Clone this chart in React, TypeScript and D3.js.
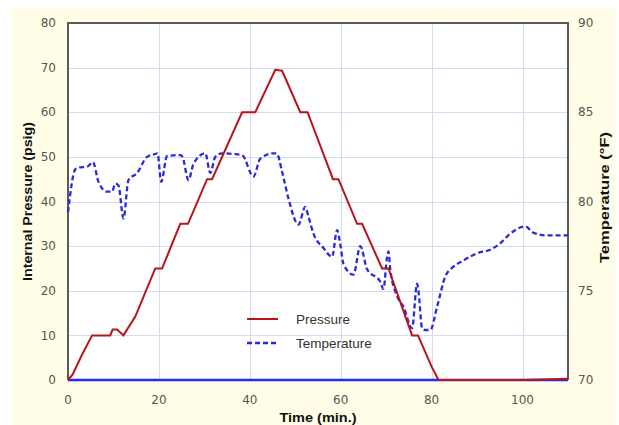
import React, { useEffect, useRef } from "react";
import * as d3 from "d3";

// time (min.), pressure (psig)
const pressureTime = [0, 1, 3, 5.3, 9.3, 9.8, 10.8, 12.2, 14.8, 19.2, 20.7, 24.7, 26.4, 30.6, 31.7, 38.3, 41.2, 45.6, 47.1, 51.1, 52.7, 58.3, 59.5, 63.6, 64.7, 69.1, 70.5, 75.7, 77, 80, 81.5, 100, 110];
const pressureValues = [0, 1.2, 5.5, 10, 10, 11.3, 11.3, 10, 14.2, 25, 25, 35, 35, 45, 45, 60, 60, 69.5, 69.3, 60, 60, 45, 45, 35, 35, 25, 25, 10, 10, 3, 0, 0, 0.3];

// time (min.), temperature (F)
const tempTime = [0, 1.6, 2.3, 4.2, 5.5, 6.7, 8.6, 9.7, 10.4, 11.1, 12.2, 13.3, 15.2, 17.4, 19.2, 19.7, 20.5, 21.8, 24.7, 25.2, 26.5, 27.6, 30.2, 31.3, 32.4, 33.9, 36.4, 38.3, 40.8, 42.3, 45.2, 45.9, 47.1, 48.5, 50.7, 52.2, 52.9, 54.0, 56.2, 58.1, 59.2, 59.9, 60.6, 62.8, 64.3, 65.8, 68.7, 69.4, 70.2, 70.5, 70.9, 72.4, 73.8, 75.7, 76.8, 77.1, 77.9, 78.6, 79.7, 81.2, 83.0, 84.8, 87.0, 90.0, 92.9, 95.1, 97.3, 100.6, 102.4, 105.4, 110];
const tempValues = [79.4, 81.8, 81.9, 81.95, 82.2, 81.1, 80.55, 80.55, 81.0, 80.9, 79.05, 81.2, 81.6, 82.5, 82.66, 82.7, 81.1, 82.55, 82.6, 82.5, 81.2, 82.1, 82.7, 81.6, 82.5, 82.7, 82.66, 82.6, 81.4, 82.4, 82.7, 82.7, 81.67, 80.17, 78.7, 79.7, 79.15, 78.2, 77.4, 76.9, 78.4, 77.6, 76.5, 75.9, 77.5, 76.2, 75.5, 75.1, 76.9, 77.2, 76.2, 74.7, 74.1, 72.9, 75.4, 75.0, 72.9, 72.8, 72.8, 74.1, 75.8, 76.35, 76.7, 77.1, 77.3, 77.66, 78.2, 78.6, 78.25, 78.1, 78.1];

const timeTicks = [0, 20, 40, 60, 80, 100];
const pressureTicks = [0, 10, 20, 30, 40, 50, 60, 70, 80];
const tempTicks = [70, 75, 80, 85, 90];

const legendItems = ["Pressure", "Temperature"];

const W = 619;
const H = 425;
const margin = { top: 23, right: 51, bottom: 45, left: 68 };

function App() {
  const svgRef = useRef<SVGSVGElement>(null);

  useEffect(() => {
    const svg = d3.select(svgRef.current);
    svg.selectAll("*").remove();

    const x = d3.scaleLinear().domain([0, 110]).range([margin.left, W - margin.right]);
    const yP = d3.scaleLinear().domain([0, 80]).range([H - margin.bottom, margin.top]);
    const yT = d3.scaleLinear().domain([70, 90]).range([H - margin.bottom, margin.top]);
    const x0 = x.range()[0], x1 = x.range()[1];
    const y0 = yP.range()[0], y1 = yP.range()[1];

    // background
    svg.append("rect").attr("x", 12).attr("y", 7).attr("width", 603).attr("height", H - 7).attr("fill", "#fffde6");
    svg.append("rect").attr("x", x0).attr("y", y1).attr("width", x1 - x0).attr("height", y0 - y1).attr("fill", "#ffffff");

    // grid
    const grid = svg.append("g").attr("stroke", "#d3dbec").attr("stroke-width", 1);
    grid.selectAll("line.h").data(pressureTicks.slice(1, -1)).join("line")
      .attr("x1", x0).attr("x2", x1)
      .attr("y1", d => Math.round(yP(d)) + 0.5).attr("y2", d => Math.round(yP(d)) + 0.5);
    grid.selectAll("line.v").data(timeTicks.slice(1)).join("line")
      .attr("class", "v")
      .attr("y1", y1).attr("y2", y0)
      .attr("x1", d => Math.round(x(d)) + 0.5).attr("x2", d => Math.round(x(d)) + 0.5);

    // frame (left, top, right)
    svg.append("path")
      .attr("d", `M${x0},${y0}V${y1}H${x1}V${y0}`)
      .attr("fill", "none").attr("stroke", "#5a5a5a").attr("stroke-width", 2);

    // blue baseline series
    svg.append("line").attr("x1", x0).attr("x2", x1).attr("y1", y0).attr("y2", y0)
      .attr("stroke", "#1f2bff").attr("stroke-width", 2.5);

    const pData = pressureTime.map((t, i) => [t, pressureValues[i]] as [number, number]);
    const tData = tempTime.map((t, i) => [t, tempValues[i]] as [number, number]);

    svg.append("path")
      .datum(tData)
      .attr("d", d3.line<[number, number]>().x(d => x(d[0])).y(d => yT(d[1])).curve(d3.curveMonotoneX))
      .attr("fill", "none").attr("stroke", "#2a2ad8").attr("stroke-width", 2.3)
      .attr("stroke-dasharray", "5,3");

    svg.append("path")
      .datum(pData)
      .attr("d", d3.line<[number, number]>().x(d => x(d[0])).y(d => yP(d[1])))
      .attr("fill", "none").attr("stroke", "#b8141c").attr("stroke-width", 2);

    // ticks
    const tickFont = "'DejaVu Sans', sans-serif";
    svg.append("g").selectAll("text").data(pressureTicks).join("text")
      .attr("x", 56).attr("y", d => yP(d)).attr("dy", "0.35em")
      .attr("text-anchor", "end").attr("font-family", tickFont).attr("font-size", 12).attr("fill", "#555")
      .text(d => d);
    svg.append("g").selectAll("text").data(tempTicks).join("text")
      .attr("x", 578).attr("y", d => yT(d)).attr("dy", "0.35em")
      .attr("text-anchor", "start").attr("font-family", tickFont).attr("font-size", 12).attr("fill", "#555")
      .text(d => d);
    svg.append("g").selectAll("text").data(timeTicks).join("text")
      .attr("x", d => x(d)).attr("y", 404)
      .attr("text-anchor", "middle").attr("font-family", tickFont).attr("font-size", 12).attr("fill", "#555")
      .text(d => d);

    // axis titles
    const titleFont = "'Liberation Sans', Arial, sans-serif";
    svg.append("text")
      .attr("transform", `translate(32,${(y0 + y1) / 2}) rotate(-90)`)
      .attr("text-anchor", "middle").attr("font-family", titleFont).attr("font-weight", "bold")
      .attr("font-size", 12).attr("fill", "#111")
      .attr("textLength", 159).attr("lengthAdjust", "spacingAndGlyphs")
      .text("Internal Pressure (psig)");
    svg.append("text")
      .attr("transform", `translate(609,${(y0 + y1) / 2 - 4}) rotate(-90)`)
      .attr("text-anchor", "middle").attr("font-family", titleFont).attr("font-weight", "bold")
      .attr("font-size", 12).attr("fill", "#111")
      .attr("textLength", 131).attr("lengthAdjust", "spacingAndGlyphs")
      .text("Temperature (°F)");
    svg.append("text")
      .attr("x", (x0 + x1) / 2).attr("y", 422)
      .attr("text-anchor", "middle").attr("font-family", titleFont).attr("font-weight", "bold")
      .attr("font-size", 12.5).attr("fill", "#111")
      .attr("textLength", 77).attr("lengthAdjust", "spacingAndGlyphs")
      .text("Time (min.)");

    // legend
    const legend = svg.append("g");
    legendItems.forEach((name, i) => {
      const ly = 319 + i * 24;
      legend.append("line").attr("x1", 247).attr("x2", 278).attr("y1", ly).attr("y2", ly)
        .attr("stroke", i === 0 ? "#b8141c" : "#2a2ad8").attr("stroke-width", i === 0 ? 2 : 2.3)
        .attr("stroke-dasharray", i === 0 ? null : "5,3");
      legend.append("text").attr("x", 296).attr("y", ly).attr("dy", "0.35em")
        .attr("font-family", titleFont).attr("font-size", 13.5).attr("fill", "#333")
        .text(name);
    });
  }, []);

  return (
    <div style={{ position: "absolute", left: 0, top: 0, background: "#fff" }}>
      <svg ref={svgRef} width={W} height={H} style={{ display: "block" }} />
    </div>
  );
}

export default App;
